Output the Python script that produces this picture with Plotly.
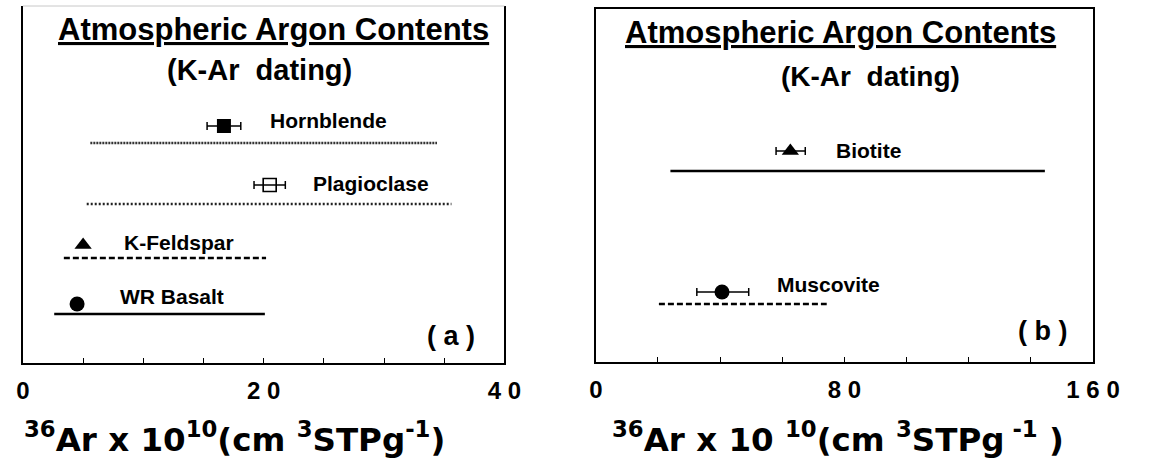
import plotly.graph_objects as go

# ---------------- data: panel (a) ----------------
minerals_a = ["Hornblende", "Plagioclase", "K-Feldspar", "WR Basalt"]
value_a = [16.7, 20.5, 5.0, 4.5]
err_lo_a = [15.3, 19.2, None, None]
err_hi_a = [18.1, 21.8, None, None]
range_lo_a = [5.6, 5.3, 3.4, 2.6]
range_hi_a = [34.4, 35.6, 20.2, 20.1]
marker_y_a = [237, 178, 118, 59]
line_y_a = [220, 159, 105, 49]
label_x_a = [25.4, 28.9, 13.0, 12.4]
label_y_a = [242, 179, 120, 67]

# ---------------- data: panel (b) ----------------
minerals_b = ["Biotite", "Muscovite"]
value_b = [62.6, 40.6]
err_lo_b = [58.0, 32.5]
err_hi_b = [67.4, 49.2]
range_lo_b = [24.0, 20.3]
range_hi_b = [144.5, 74.3]
marker_y_b = [211, 70]
line_y_b = [191, 58]
label_x_b = [87.7, 74.8]
label_y_b = [211, 77]

ticks_a = [0, 20, 40]
ticktext_a = ["0", "2 0", "4 0"]
ticks_b = [0, 80, 160]
ticktext_b = ["0", "8 0", "1 6 0"]

# ---------------- styles ----------------
FONT = "Liberation Sans, Arial, Helvetica, sans-serif"
WIDE = "DejaVu Sans, Liberation Sans, sans-serif"
marker_style = {
    "Hornblende": dict(symbol="square", size=14, color="black"),
    "Plagioclase": dict(symbol="square-open", size=13, color="black", line=dict(width=1.6, color="black")),
    "K-Feldspar": dict(symbol="triangle-up", size=15, color="black"),
    "WR Basalt": dict(symbol="circle", size=15, color="black"),
    "Biotite": dict(symbol="triangle-up", size=15, color="black"),
    "Muscovite": dict(symbol="circle", size=15, color="black"),
}
line_style = {
    "Hornblende": dict(color="#333", width=2.4, dash="2px,1px"),
    "Plagioclase": dict(color="#222", width=2.4, dash="2px,2px"),
    "K-Feldspar": dict(color="black", width=2.3, dash="6px,3px"),
    "WR Basalt": dict(color="black", width=2.7),
    "Biotite": dict(color="black", width=2.7),
    "Muscovite": dict(color="black", width=2.3, dash="6px,3px"),
}

fig = go.Figure()


def add_panel(names, vals, elo, ehi, rlo, rhi, my, ly, lx, lyy, xa, ya):
    for i, n in enumerate(names):
        # range line
        fig.add_trace(go.Scatter(x=[rlo[i], rhi[i]], y=[ly[i], ly[i]], mode="lines",
                                 line=line_style[n], xaxis=xa, yaxis=ya,
                                 showlegend=False, hoverinfo="skip"))
        ex = None
        if elo[i] is not None:
            ex = dict(type="data", symmetric=False, array=[ehi[i] - vals[i]],
                      arrayminus=[vals[i] - elo[i]], color="black", thickness=1.5, width=4)
        fig.add_trace(go.Scatter(x=[vals[i]], y=[my[i]], mode="markers",
                                 marker=marker_style[n], error_x=ex, xaxis=xa, yaxis=ya,
                                 showlegend=False, name=n))
        fig.add_annotation(x=lx[i], y=lyy[i], xref=xa, yref=ya, text=n, showarrow=False,
                           font=dict(family=FONT, size=21, color="black", weight="bold"),
                           xanchor="center", yanchor="middle")


add_panel(minerals_a, value_a, err_lo_a, err_hi_a, range_lo_a, range_hi_a,
          marker_y_a, line_y_a, label_x_a, label_y_a, "x", "y")
add_panel(minerals_b, value_b, err_lo_b, err_hi_b, range_lo_b, range_hi_b,
          marker_y_b, line_y_b, label_x_b, label_y_b, "x2", "y2")

W, H = 1154, 463


def px(xp):
    return xp / W


def py(yp):
    return 1 - yp / H


tickfont = dict(family=FONT, size=24, color="black", weight="bold")
common_x = dict(showgrid=False, zeroline=False, showline=True, linecolor="black", linewidth=1.5,
                ticks="inside", ticklen=5, tickwidth=1.2, tickcolor="black",
                tickfont=tickfont, ticklabelstandoff=5)
common_y = dict(showgrid=False, zeroline=False, showline=True, linecolor="black", linewidth=1.5,
                showticklabels=False, ticks="")

fig.update_layout(
    width=W, height=H, margin=dict(l=0, r=0, t=0, b=0),
    paper_bgcolor="white", plot_bgcolor="white",
    xaxis=dict(domain=[px(16.4), px(512.5)], range=[0, 40], tickvals=ticks_a, ticktext=ticktext_a,
               minor=dict(dtick=5, ticks="inside", ticklen=5, tickcolor="black", tickwidth=1.2),
               anchor="y", **common_x),
    yaxis=dict(domain=[py(363), py(6)], range=[0, 357], anchor="x", mirror=True, **common_y),
    xaxis2=dict(domain=[px(606.7), px(1119)], range=[0, 160], tickvals=ticks_b, ticktext=ticktext_b,
                minor=dict(dtick=20, ticks="inside", ticklen=5, tickcolor="black", tickwidth=1.2),
                anchor="y2", mirror=True, **common_x),
    yaxis2=dict(domain=[py(362), py(9.3)], range=[0, 352.7], anchor="x2", mirror=True, **common_y),
)

# faint top border of panel (a)
fig.add_shape(type="line", xref="x domain", yref="y domain", x0=0, x1=1, y0=1, y1=1,
              line=dict(color="#c8c8c8", width=1))

title_font = dict(family=FONT, size=31, color="black", weight="bold", lineposition="under")
sub_font_a = dict(family=FONT, size=29, color="black", weight="bold")
sub_font_b = dict(family=FONT, size=28, color="black", weight="bold")
lab_font = dict(family=FONT, size=27, color="black", weight="bold")
ax_font_a = dict(family=WIDE, size=32.5, color="black", weight="bold")
ax_font_b = dict(family=WIDE, size=32.5, color="black", weight="bold")

texts = [
    ("Atmospheric Argon Contents", 275, 29, title_font),
    ("(K-Ar\u00a0\u00a0dating)", 260, 70, sub_font_a),
    ("(\u00a0a\u00a0)", 457, 336, lab_font),
    ("Atmospheric Argon Contents", 859, 33, title_font),
    ("(K-Ar\u00a0\u00a0dating)", 890, 77, sub_font_b),
    ("(\u00a0b\u00a0)", 1067, 331, lab_font),
    ("<sup>36</sup>Ar x 10<sup>10</sup>(cm <sup>3</sup>STPg<sup>-1</sup>)", 234, 437, ax_font_a),
    ("<sup>36</sup>Ar x 10 <sup>10</sup>(cm <sup>3</sup>STPg<sup> -1</sup> )", 856, 437, ax_font_b),
]
for t, x, y, f in texts:
    fig.add_annotation(x=px(x), y=py(y), xref="paper", yref="paper", text=t, showarrow=False,
                       font=f, xanchor="center", yanchor="middle")

fig.write_html("out.html")
